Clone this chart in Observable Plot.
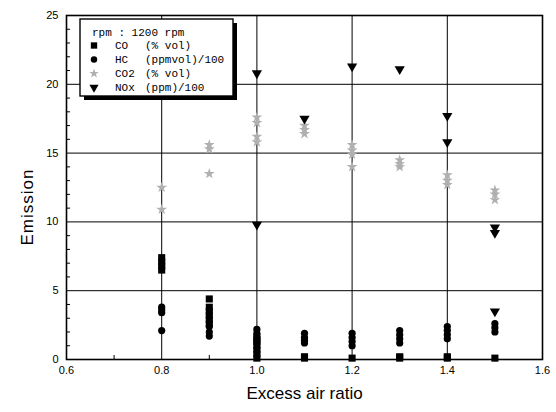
<!DOCTYPE html>
<html><head><meta charset="utf-8">
<script src="https://cdn.jsdelivr.net/npm/d3@7"></script>
<script src="https://cdn.jsdelivr.net/npm/@observablehq/plot@0.6"></script>
<style>body{margin:0;background:#fff} svg{display:block}</style>
</head><body><div id="chart"></div>
<script>
// ---- data ----
const xTicks = [0.6, 0.8, 1.0, 1.2, 1.4, 1.6];
const yTicks = [0, 5, 10, 15, 20, 25];
const xGrid = [0.8, 1.0, 1.2, 1.4];
const yGrid = [5, 10, 15, 20];
const xMinor = [0.7, 0.9, 1.1, 1.3, 1.5];
const yMinor = [1,2,3,4,6,7,8,9,11,12,13,14,16,17,18,19,21,22,23,24];

const CO = [
  [0.8, 6.5], [0.8, 6.8], [0.8, 7.1], [0.8, 7.4],
  [0.9, 4.4], [0.9, 3.8], [0.9, 3.5], [0.9, 3.2], [0.9, 2.9], [0.9, 2.6],
  [1.0, 0.1], [1.0, 0.4], [1.0, 0.7], [1.0, 1.0], [1.0, 1.3], [1.0, 1.6],
  [1.1, 0.1], [1.1, 0.2],
  [1.2, 0.1],
  [1.3, 0.1], [1.3, 0.2],
  [1.4, 0.1], [1.4, 0.2],
  [1.5, 0.1]
];
const HC = [
  [0.8, 3.8], [0.8, 3.6], [0.8, 3.4], [0.8, 2.1],
  [0.9, 2.4], [0.9, 2.0], [0.9, 1.7],
  [1.0, 2.2], [1.0, 1.9], [1.0, 1.6], [1.0, 1.3],
  [1.1, 1.9], [1.1, 1.6], [1.1, 1.4], [1.1, 1.2],
  [1.2, 1.9], [1.2, 1.6], [1.2, 1.3], [1.2, 1.0],
  [1.3, 2.1], [1.3, 1.8], [1.3, 1.5], [1.3, 1.2],
  [1.4, 2.4], [1.4, 2.1], [1.4, 1.8], [1.4, 1.5],
  [1.5, 2.6], [1.5, 2.3], [1.5, 2.0]
];
const CO2 = [
  [0.8, 12.5], [0.8, 10.9],
  [0.9, 15.6], [0.9, 15.3], [0.9, 13.5],
  [1.0, 17.6], [1.0, 17.2], [1.0, 16.2], [1.0, 15.8],
  [1.1, 17.0], [1.1, 16.7], [1.1, 16.4],
  [1.2, 15.6], [1.2, 15.2], [1.2, 14.9], [1.2, 14.0],
  [1.3, 14.5], [1.3, 14.2], [1.3, 14.0],
  [1.4, 13.4], [1.4, 13.0], [1.4, 12.7],
  [1.5, 12.3], [1.5, 12.0], [1.5, 11.6]
];
const NOx = [
  [1.0, 20.8], [1.0, 9.8],
  [1.1, 17.5],
  [1.2, 21.3],
  [1.3, 21.1],
  [1.4, 17.7], [1.4, 15.8],
  [1.5, 9.6], [1.5, 9.2], [1.5, 3.5]
];
const seriesNames = ["CO", "HC", "CO2", "NOx"];
const seriesUnits = ["(% vol)", "(ppmvol)/100", "(% vol)", "(ppm)/100"];
const legendTitle = "rpm : 1200 rpm";
const xLabel = "Excess air ratio";
const yLabel = "Emission";

// ---- styles ----
const sym = {
  CO:  {symbol: "square",   r: 4.0, fill: "#000", rotate: 0},
  HC:  {symbol: "circle",   r: 3.6, fill: "#000", rotate: 0},
  CO2: {symbol: "star",     r: 3.4, fill: "#b0b0b0", rotate: 0},
  NOx: {symbol: "triangle", r: 3.8, fill: "#000", rotate: 180}
};
const X = d => d[0], Y = d => d[1];

const plot = Plot.plot({
  width: 556, height: 412,
  marginLeft: 66, marginRight: 14, marginTop: 15, marginBottom: 53,
  style: {fontFamily: "'Liberation Sans', Arial, sans-serif", fontSize: "11px", color: "#000", background: "#fff"},
  x: {domain: [0.6, 1.6]},
  y: {domain: [0, 25]},
  marks: [
    Plot.gridX(xGrid, {stroke: "#000", strokeOpacity: 1, strokeWidth: 1}),
    Plot.gridY(yGrid, {stroke: "#000", strokeOpacity: 1, strokeWidth: 1}),
    Plot.axisX(xMinor, {tickSize: 4, dy: -4, text: null, label: null, strokeWidth: 1}),
    Plot.axisY(yMinor, {tickSize: 4, dx: 4, text: null, label: null, strokeWidth: 1}),
    Plot.axisX(xTicks, {tickSize: 0, tickPadding: 7, tickFormat: d3.format(".1f"), label: null}),
    Plot.axisY(yTicks, {tickSize: 0, tickPadding: 8, label: null}),
    Plot.dot(CO2, {x: X, y: Y, ...sym.CO2}),
    Plot.dot(HC,  {x: X, y: Y, ...sym.HC}),
    Plot.dot(CO,  {x: X, y: Y, ...sym.CO}),
    Plot.dot(NOx, {x: X, y: Y, ...sym.NOx}),
    Plot.frame({stroke: "#000", strokeWidth: 1.6}),
    Plot.text([xLabel], {frameAnchor: "bottom", dy: 34, fontSize: 17, fill: "#000", letterSpacing: "1px", lineAnchor: "middle"})
  ]
});
document.getElementById("chart").appendChild(plot);

const svg = d3.select(plot);
const xs = plot.scale("x"), ys = plot.scale("y");
const fx0 = Math.min(...xs.range), fy0 = Math.min(...ys.range), fy1 = Math.max(...ys.range);

// y axis title
svg.append("text")
  .attr("transform", `translate(${fx0 - 39},${(fy0 + fy1) / 2 + 20}) rotate(-90)`)
  .attr("text-anchor", "middle").attr("dy", "0.35em")
  .attr("font-family", "'Liberation Sans', Arial, sans-serif").attr("font-size", 17)
  .attr("letter-spacing", "1px").attr("fill", "#000")
  .text(yLabel);

// ---- legend (inside the plot area, top-left) ----
const lg = svg.append("g")
  .attr("font-family", "'Liberation Mono', 'DejaVu Sans Mono', monospace")
  .attr("font-size", 11).attr("fill", "#000").attr("text-anchor", "start")
  .style("white-space", "pre");
const bx = fx0 + 14, by = fy0 + 4, bw = 153, bh = 77;
lg.append("rect").attr("x", bx + 4).attr("y", by + 4).attr("width", bw).attr("height", bh).attr("fill", "#000");
lg.append("rect").attr("x", bx).attr("y", by).attr("width", bw).attr("height", bh).attr("fill", "#fff").attr("stroke", "#000").attr("stroke-width", 1.4);
lg.append("text").attr("x", bx + 12).attr("y", by + 13).attr("dy", "0.35em").text(legendTitle);
const symMap = {circle: d3.symbolCircle, square: d3.symbolSquare, star: d3.symbolStar, triangle: d3.symbolTriangle};
seriesNames.forEach((name, i) => {
  const s = sym[name];
  const yy = by + 26.5 + i * 14;
  lg.append("path")
    .attr("d", d3.symbol(symMap[s.symbol], Math.PI * s.r * s.r * 0.8)())
    .attr("transform", `translate(${bx + 14},${yy}) rotate(${s.rotate})`)
    .attr("fill", s.fill);
  lg.append("text").attr("x", bx + 35).attr("y", yy).attr("dy", "0.35em").text(name);
  lg.append("text").attr("x", bx + 65).attr("y", yy).attr("dy", "0.35em").text(seriesUnits[i]);
});
</script>
</body></html>
